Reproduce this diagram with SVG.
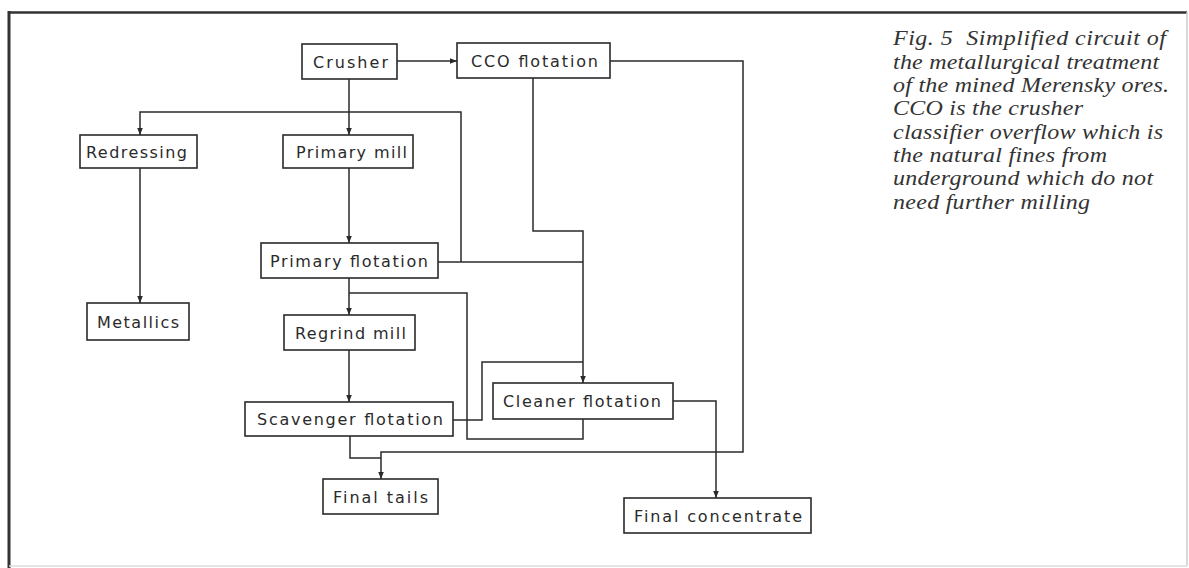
<svg xmlns="http://www.w3.org/2000/svg" width="1189" height="568" viewBox="0 0 1189 568">
<style>
.box{fill:#fff;stroke:#2a2a2a;stroke-width:1.6}
.lbl{font-family:"DejaVu Sans","Liberation Sans",sans-serif;font-size:16px;fill:#2a2a2a;text-anchor:middle}
.con{fill:none;stroke:#2a2a2a;stroke-width:1.5}
.cap{font-family:"Liberation Serif","Times New Roman",serif;font-style:italic;font-size:20px;fill:#333}
</style>
<defs>
<marker id="ah" viewBox="0 0 10 10" refX="10" refY="5" markerWidth="7" markerHeight="7" orient="auto" markerUnits="userSpaceOnUse">
<path d="M0,1 L10,5 L0,9 z" fill="#2a2a2a"/>
</marker>
</defs>
<rect width="1189" height="568" fill="#fff"/>
<g id="frame">
<line x1="9" y1="11" x2="9" y2="568" stroke="#333" stroke-width="3"/>
<line x1="8" y1="12.5" x2="1187" y2="12.5" stroke="#333" stroke-width="2.5"/>
<line x1="1187" y1="12" x2="1187" y2="566" stroke="#ccc" stroke-width="1.5"/>
<line x1="9" y1="566" x2="1187" y2="566" stroke="#ddd" stroke-width="1.5"/>
</g>
<g id="connectors">
<path class="con" marker-end="url(#ah)" d="M397,61 H457"/>
<path class="con" marker-end="url(#ah)" d="M610,61 H743 V452 H381 V479"/>
<path class="con" marker-end="url(#ah)" d="M349,79 V135"/>
<path class="con" marker-end="url(#ah)" d="M461,262 V112 H140 V135"/>
<path class="con" d="M438,262 H583"/>
<path class="con" marker-end="url(#ah)" d="M533,78 V231 H583 V383"/>
<path class="con" marker-end="url(#ah)" d="M349,168 V243"/>
<path class="con" marker-end="url(#ah)" d="M140,168 V303"/>
<path class="con" marker-end="url(#ah)" d="M349,278 V315"/>
<path class="con" d="M583,419 V439 H467 V293 H349"/>
<path class="con" marker-end="url(#ah)" d="M349,350 V402"/>
<path class="con" d="M453,420 H482 V362 H583"/>
<path class="con" d="M350,436 V458 H381"/>
<path class="con" marker-end="url(#ah)" d="M673,401 H716 V498"/>
</g>
<g id="crusher"><rect class="box" x="302" y="44" width="95" height="35"/><text class="lbl" x="350.5" y="67.5" textLength="75" lengthAdjust="spacing">Crusher</text></g>
<g id="cco-flotation"><rect class="box" x="457" y="43" width="153" height="35"/><text class="lbl" x="534.5" y="66.5" textLength="127" lengthAdjust="spacing">CCO flotation</text></g>
<g id="redressing"><rect class="box" x="80" y="135" width="117" height="33"/><text class="lbl" x="136.5" y="157.5" textLength="101" lengthAdjust="spacing">Redressing</text></g>
<g id="primary-mill"><rect class="box" x="283" y="135" width="130" height="33"/><text class="lbl" x="351.5" y="157.5" textLength="111" lengthAdjust="spacing">Primary mill</text></g>
<g id="metallics"><rect class="box" x="87" y="303" width="102" height="37"/><text class="lbl" x="138" y="327.5" textLength="82" lengthAdjust="spacing">Metallics</text></g>
<g id="primary-flotation"><rect class="box" x="261" y="243" width="177" height="35"/><text class="lbl" x="349" y="266.5" textLength="158" lengthAdjust="spacing">Primary flotation</text></g>
<g id="regrind-mill"><rect class="box" x="284" y="315" width="131" height="35"/><text class="lbl" x="350.5" y="338.5" textLength="111" lengthAdjust="spacing">Regrind mill</text></g>
<g id="scavenger-flotation"><rect class="box" x="245" y="402" width="208" height="34"/><text class="lbl" x="350" y="425" textLength="186" lengthAdjust="spacing">Scavenger flotation</text></g>
<g id="cleaner-flotation"><rect class="box" x="493" y="383" width="180" height="36"/><text class="lbl" x="582" y="407" textLength="158" lengthAdjust="spacing">Cleaner flotation</text></g>
<g id="final-tails"><rect class="box" x="323" y="479" width="115" height="35"/><text class="lbl" x="380.5" y="502.5" textLength="95" lengthAdjust="spacing">Final tails</text></g>
<g id="final-concentrate"><rect class="box" x="624" y="498" width="187" height="35"/><text class="lbl" x="718" y="521.5" textLength="168" lengthAdjust="spacing">Final concentrate</text></g>
<g id="caption" transform="matrix(1.2,0,0,1,0,0)">
<text class="cap" x="744.2" y="45.5" textLength="227.5" lengthAdjust="spacing" xml:space="preserve">Fig. 5  Simplified circuit of</text>
<text class="cap" x="744.2" y="68.8" textLength="221.7" lengthAdjust="spacing">the metallurgical treatment</text>
<text class="cap" x="744.2" y="92.1" textLength="230" lengthAdjust="spacing">of the mined Merensky ores.</text>
<text class="cap" x="744.2" y="115.4" textLength="158.3" lengthAdjust="spacing">CCO is the crusher</text>
<text class="cap" x="744.2" y="138.7" textLength="225" lengthAdjust="spacing">classifier overflow which is</text>
<text class="cap" x="744.2" y="162" textLength="178.3" lengthAdjust="spacing">the natural fines from</text>
<text class="cap" x="744.2" y="185.3" textLength="216.7" lengthAdjust="spacing">underground which do not</text>
<text class="cap" x="744.2" y="208.6" textLength="164.2" lengthAdjust="spacing">need further milling</text>
</g>
</svg>
